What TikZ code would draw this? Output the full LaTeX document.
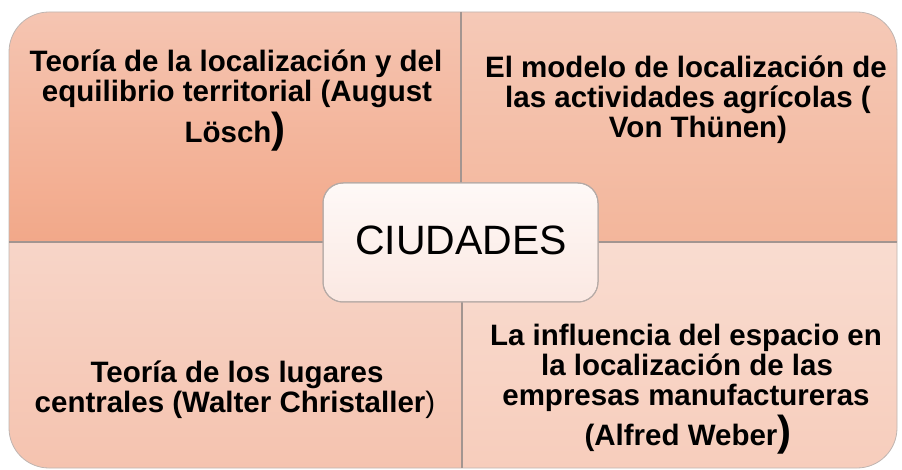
\documentclass[tikz,border=0pt]{standalone}
\usepackage{fontspec}
\setmainfont{Liberation Sans}
\definecolor{tlTop}{HTML}{F5C5B2}
\definecolor{tlBot}{HTML}{F2A889}
\definecolor{trTop}{HTML}{F5C9B7}
\definecolor{trBot}{HTML}{F3B69B}
\definecolor{blTop}{HTML}{F7D5C8}
\definecolor{blBot}{HTML}{F5C3AF}
\definecolor{brTop}{HTML}{F9DCD0}
\definecolor{brBot}{HTML}{F7CDBC}
\definecolor{boxTop}{HTML}{FEF9F7}
\definecolor{boxBot}{HTML}{FBE8E2}
\definecolor{lineGray}{HTML}{A39590}
\begin{document}
\begin{tikzpicture}[x=1pt,y=-1pt,
  tx/.style={font=\bfseries\fontsize{29.5}{30}\selectfont, inner sep=0pt, anchor=base, text=black},
  divider/.style={draw=lineGray, line width=1.3pt},
  outline/.style={draw=lineGray!70, line width=0.8pt},
  centerbox/.style={draw=lineGray!80, line width=1pt, rounded corners=20pt}]
\path[use as bounding box] (0,0) rectangle (902,470);
\begin{scope}
  \clip[rounded corners=40pt] (9,12) rectangle (897,468);
  \shade[top color=tlTop, bottom color=tlBot] (9,12) rectangle (461,242);
  \shade[top color=trTop, bottom color=trBot] (461,12) rectangle (897,242);
  \shade[top color=blTop, bottom color=blBot] (9,242) rectangle (461,468);
  \shade[top color=brTop, bottom color=brBot] (461,242) rectangle (897,468);
\end{scope}
\draw[outline, rounded corners=40pt] (9,12) rectangle (897,468);
\draw[divider] (461,12) -- (461,242);
\draw[divider] (462,242) -- (462,468);
\draw[divider] (9,242) -- (897,242);
% texts
\node[tx] (tl1) at (236,72) {Teoría de la localización y del};
\node[tx] (tl2) at (237,102) {equilibrio territorial (August};
\node[tx] (tl3) at (235,143) {Lösch{\fontsize{42}{42}\selectfont )}};
\node[tx] (tr1) at (686,78) {El modelo de localización de};
\node[tx] (tr2) at (688,108) {las actividades agrícolas (};
\node[tx] (tr3) at (698,138) {Von Thünen)};
\node[tx] (bl1) at (237,382) {Teoría de los lugares};
\node[tx] (bl2) at (235,412) {centrales (Walter Christaller{\mdseries )}};
\node[tx] (br1) at (686,345) {La influencia del espacio en};
\node[tx] (br2) at (687,375) {la localización de las};
\node[tx] (br3) at (686,405) {empresas manufactureras};
\node[tx] (br4) at (688,445) {(Alfred Weber{\fontsize{42}{42}\selectfont )}};
% center box
\shade[centerbox, top color=boxTop, bottom color=boxBot] (323,183) rectangle (598,302);
\draw[centerbox] (323,183) rectangle (598,302);
\node[inner sep=0pt, anchor=base, font=\fontsize{41}{41}\selectfont] (ciudades) at (461,255) {CIUDADES};
\end{tikzpicture}
\end{document}
